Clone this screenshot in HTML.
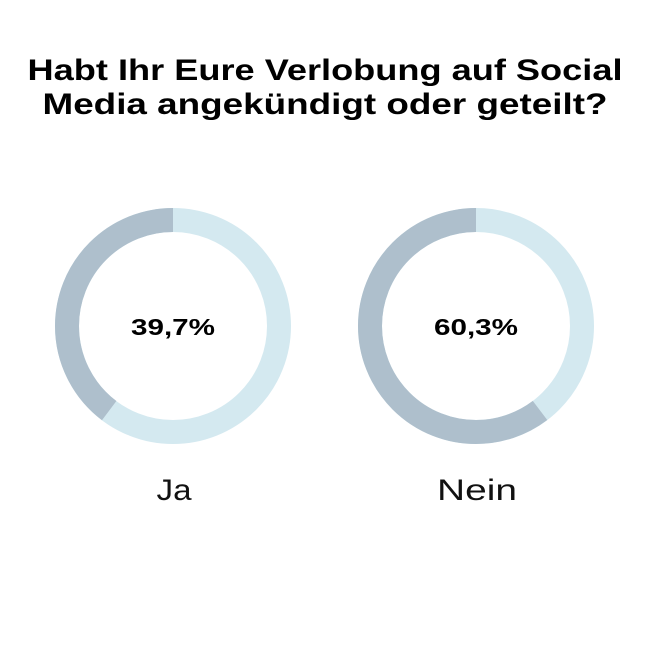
<!DOCTYPE html>
<html><head><meta charset="utf-8"><style>
body{margin:0;width:650px;height:650px;background:#fff;overflow:hidden}
svg{display:block}
</style></head><body>
<svg width="650" height="650" viewBox="0 0 650 650" xmlns="http://www.w3.org/2000/svg" font-family="Liberation Sans, sans-serif">
<text x="325" y="80" text-anchor="middle" font-size="30" font-weight="bold" fill="#000" textLength="595" lengthAdjust="spacingAndGlyphs">Habt Ihr Eure Verlobung auf Social</text>
<text x="325" y="114" text-anchor="middle" font-size="30" font-weight="bold" fill="#000" textLength="565" lengthAdjust="spacingAndGlyphs">Media angekündigt oder geteilt?</text>
<g transform="translate(173,326)">
<circle r="106" fill="none" stroke="#d4e9f0" stroke-width="24"/>
<circle r="106" fill="none" stroke="#aebfcc" stroke-width="24" stroke-dasharray="264.4 1000" transform="rotate(-90) scale(1,-1)"/>
<text y="9" text-anchor="middle" font-size="23" font-weight="bold" textLength="84" lengthAdjust="spacingAndGlyphs">39,7%</text>
</g>
<g transform="translate(476,326)">
<circle r="106" fill="none" stroke="#d4e9f0" stroke-width="24"/>
<circle r="106" fill="none" stroke="#aebfcc" stroke-width="24" stroke-dasharray="401.6 1000" transform="rotate(-90) scale(1,-1)"/>
<text y="9" text-anchor="middle" font-size="23" font-weight="bold" textLength="84" lengthAdjust="spacingAndGlyphs">60,3%</text>
</g>
<text x="174" y="500" text-anchor="middle" font-size="30" fill="#111" textLength="35" lengthAdjust="spacingAndGlyphs">Ja</text>
<text x="477" y="500" text-anchor="middle" font-size="30" fill="#111" textLength="80" lengthAdjust="spacingAndGlyphs">Nein</text>
</svg>
</body></html>
